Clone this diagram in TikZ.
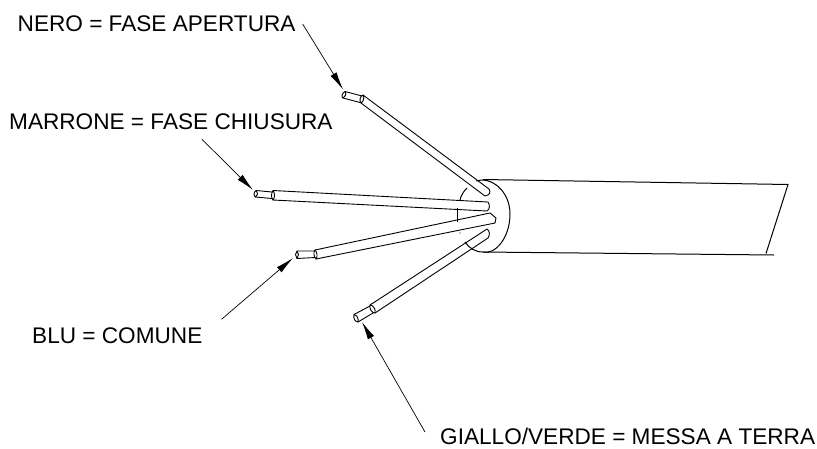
\documentclass[tikz,border=0pt]{standalone}
\usepackage{fontspec}
\setmainfont{Liberation Sans}
\usetikzlibrary{arrows.meta}
\tikzset{
  label/.style = {font=\fontsize{22.6}{24}\selectfont, inner sep=0pt, anchor=west},
  leader/.style = {line width=0.7pt, -{Latex[length=18pt,width=7pt]}},
  wire/.style = {line width=0.9pt, line join=round, line cap=round},
  jacket/.style = {line width=1pt}
}
\begin{document}
\begin{tikzpicture}[x=1pt, y=-1pt]
    \useasboundingbox (0,0) rectangle (817,448);
    \node[label] (nero) at (17.5,24) {NERO = FASE APERTURA};
    \node[label] (marrone) at (9,122) {MARRONE = FASE CHIUSURA};
    \node[label] (blu) at (32,335.5) {BLU = COMUNE};
    \node[label] (giallo) at (440,436.5) {GIALLO/VERDE = MESSA A TERRA};
    % tips of the leaders
    \coordinate (nerotip) at (343,89.5);
    \coordinate (marronetip) at (253,190);
    \coordinate (blutip) at (293,258);
    \coordinate (giallotip) at (362,322);
    \draw[leader] ([shift={(7,0)}]nero.east) -- (nerotip);
    \draw[leader] ([shift={(31,9)}]marrone.south) -- (marronetip);
    \draw[leader] ([shift={(19,-8)}]blu.north east) -- (blutip);
    \draw[leader] ([shift={(-15,4)}]giallo.north west) -- (giallotip);
    % jacket
    \draw[jacket] (483,179.5) -- (788,184.5) -- (766,253.5);
    \draw[jacket] (483,252) -- (774,255);
    \draw[jacket] (476,181) .. controls (490,176) and (510,190) .. (510,214) .. controls (510,238) and (495,255) .. (483,252) .. controls (475,252) and (469,248) .. (465,242);
    \draw[jacket] (460,200) .. controls (461,195) and (464,191) .. (467,188);
    \draw[jacket] (457,208) -- (457,222);
    \fill (460,233) circle (0.6);
    % nero
    \draw[wire] (363,95) -- (489,189) .. controls (491,192) and (490,195) .. (485,196) -- (361,103);
    \draw[wire] (363,95) .. controls (365,98) and (363,102) .. (361,103) .. controls (359,101) and (360,96) .. (363,95);
    \draw[wire] (345,91.5) -- (362,96) (343,98) -- (360,102.5);
    \draw[wire] (345,91.5) .. controls (347,94) and (345,97) .. (343,98) .. controls (341,97) and (342,93) .. (345,91.5);
    % marrone
    \draw[wire] (273,190.5) -- (488,202) .. controls (490,205) and (490,209) .. (487,211) -- (273,200);
    \draw[wire] (273,190.5) .. controls (275,193) and (275,198) .. (273,200) .. controls (271,198) and (271,193) .. (273,190.5);
    \draw[wire] (256,190.5) -- (272,192) (255.5,197) -- (272,198.5);
    \draw[wire] (256,190.5) .. controls (258,193) and (258,196) .. (255.5,197) .. controls (253.5,196) and (253.5,192) .. (256,190.5);
    % blu
    \draw[wire] (315,250) -- (490,213) -- (496,218) -- (495,223) -- (316,259);
    \draw[wire] (315,250) .. controls (317,252) and (318,256) .. (316,259) .. controls (314,257) and (313,252) .. (315,250);
    \draw[wire] (297,251) -- (315,251) (297,258.5) -- (315,257.5);
    \draw[wire] (297,251) .. controls (299,253) and (299,256) .. (297,258.5) .. controls (295,256) and (295,253) .. (297,251);
    % giallo
    \draw[wire] (370,305) -- (487,229) .. controls (490,231) and (490,235) .. (488,238) -- (375,313);
    \draw[wire] (370,305) .. controls (373,305) and (376,309) .. (375,313) .. controls (372,313) and (369,309) .. (370,305);
    \draw[wire] (354,314.5) -- (370,306) (358,322) -- (373,313);
    \draw[wire] (354,314.5) .. controls (357,315) and (359,319) .. (358,322) .. controls (355,322) and (353,318) .. (354,314.5);
\end{tikzpicture}
\end{document}
